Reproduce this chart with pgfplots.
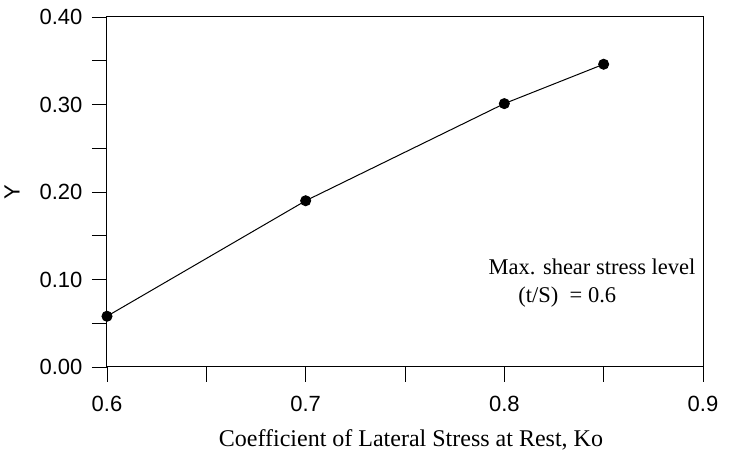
\documentclass[border=0pt]{standalone}
\usepackage{pgfplots}
\pgfplotsset{compat=1.18}
\usepackage{fontspec}
\setmainfont{Liberation Serif}
\newfontfamily\arial{Liberation Sans}
\begin{document}
\begin{tikzpicture}[x=1pt,y=1pt]
\begin{axis}[
  at={(0,0)}, anchor=south west,
  scale only axis, width=596pt, height=350pt,
  xmin=0.6, xmax=0.9, ymin=0, ymax=0.40,
  xtick={0.6,0.7,0.8,0.9}, ytick={0,0.1,0.2,0.3,0.4},
  minor x tick num=1, minor y tick num=1,
  tick align=outside, tick pos=left,
  major tick length=15pt, minor tick length=15pt,
  every tick/.style={black, line width=0.9pt},
  axis line style={line width=1pt},
  /pgf/number format/assume math mode=true,
  ticklabel style={font=\arial\fontsize{22}{25}\selectfont},
  xticklabel style={yshift=-11pt, /pgf/number format/.cd, fixed, fixed zerofill, precision=1},
  yticklabel style={xshift=-6pt, /pgf/number format/.cd, fixed, fixed zerofill, precision=2},
  xlabel={Coefficient of Lateral Stress at Rest, Ko},
  xlabel style={font=\fontsize{24}{28}\selectfont, at={(rel axis cs:0.51,0)}, anchor=center, yshift=-73pt},
  ylabel={Y},
  ylabel style={font=\arial\fontsize{22}{25}\selectfont, at={(rel axis cs:0,0.5)}, anchor=center, yshift=95pt},
]
\addplot[black, line width=1pt, mark=*, mark size=5pt] coordinates {
  (0.6,0.058) (0.7,0.19) (0.8,0.301) (0.85,0.346)
};
\node[anchor=west, font=\fontsize{22.5}{27}\selectfont, inner sep=0pt] at (axis cs:0.792,0.114) {Max. shear stress level};
\node[anchor=west, font=\fontsize{22.5}{27}\selectfont, inner sep=0pt] at (axis cs:0.807,0.080) {(t/S)\ \ = 0.6};
\end{axis}
\path[use as bounding box] (-107,-98) rectangle (640,367);
\end{tikzpicture}
\end{document}
